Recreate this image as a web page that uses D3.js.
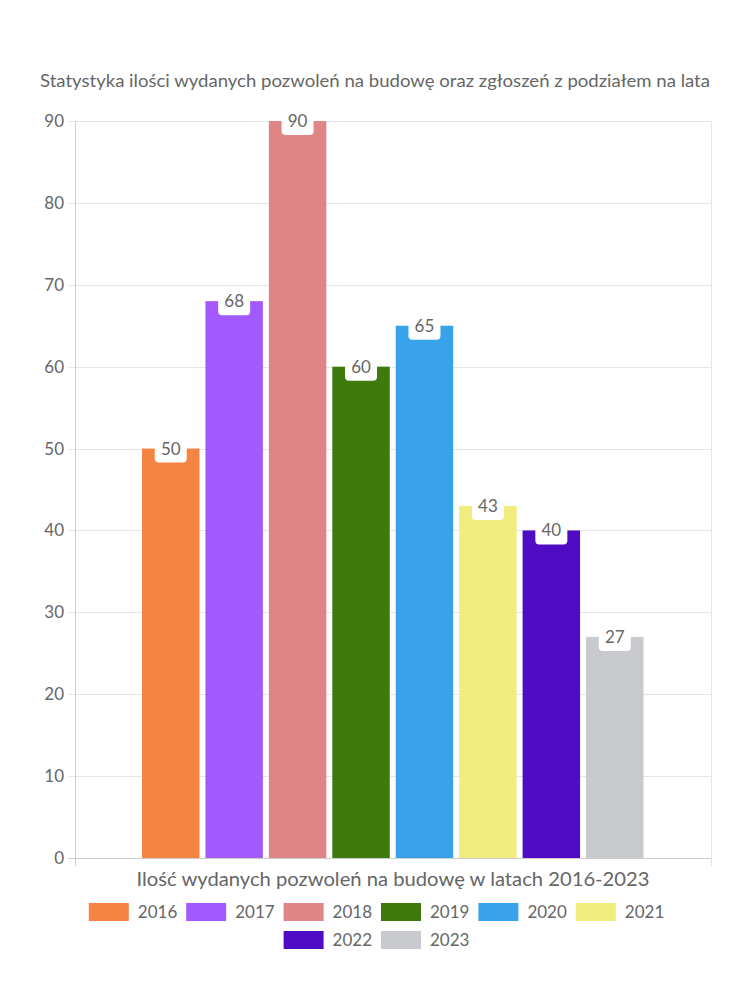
<!DOCTYPE html>
<html><head><meta charset="utf-8">
<script src="https://cdn.jsdelivr.net/npm/d3@7"></script>
<style>body{margin:0;background:#fff;} text{font-family:Lato, "Noto Sans", sans-serif;}</style>
</head><body>
<svg id="c" width="750" height="1000"></svg>
<script>
const years = ["2016","2017","2018","2019","2020","2021","2022","2023"];
const values = [50, 68, 90, 60, 65, 43, 40, 27];
const colors = ["#F58442","#A259FF","#E08585","#3E7B0C","#38A3EB","#F0EC7D","#4F0CC4","#C9CACE"];
const yTicks = [0,10,20,30,40,50,60,70,80,90];
const title = "Statystyka ilości wydanych pozwoleń na budowę oraz zgłoszeń z podziałem na lata";
const xTitle = "Ilość wydanych pozwoleń na budowę w latach 2016-2023";

const svg = d3.select("#c");
const L = 75, R = 711, T = 121, B = 858;
const y = d3.scaleLinear().domain([0, 90]).range([B, T]);
const x = d3.scaleBand().domain(years).range([142, 643.5]).paddingInner(0.094).paddingOuter(0);

const txt = "#666";
// title
svg.append("text").attr("x", 375).attr("y", 87).attr("text-anchor","middle")
  .attr("font-size", 17.5).attr("fill", txt)
  .attr("textLength", 670).attr("lengthAdjust","spacingAndGlyphs").text(title);

// grid
svg.append("g").selectAll("line").data(yTicks).join("line")
  .attr("x1", 68).attr("x2", R).attr("y1", d=>Math.round(y(d))+0.5).attr("y2", d=>Math.round(y(d))+0.5)
  .attr("stroke", d=> d===0 ? "#ccc" : "#e6e6e6").attr("stroke-width",1);
// right border
svg.append("line").attr("x1", R+0.5).attr("x2", R+0.5).attr("y1", T).attr("y2", 866).attr("stroke","#e6e6e6");
// left axis
svg.append("line").attr("x1", L+0.5).attr("x2", L+0.5).attr("y1", T).attr("y2", 866).attr("stroke","#ccc");
// y labels
svg.append("g").selectAll("text").data(yTicks).join("text")
  .attr("x", 64).attr("y", d=>y(d)).attr("dy","0.35em").attr("text-anchor","end")
  .attr("font-size", 17).attr("fill", txt).text(d=>d);

// bars
svg.append("g").selectAll("rect").data(values).join("rect")
  .attr("x", (d,i)=>x(years[i])).attr("width", x.bandwidth())
  .attr("y", d=>y(d)).attr("height", d=>B - y(d))
  .attr("fill", (d,i)=>colors[i]);

// labels
const lab = svg.append("g").selectAll("g").data(values).join("g")
  .attr("transform", (d,i)=>`translate(${x(years[i]) + x.bandwidth()/2},${y(d)})`);
lab.append("rect").attr("x", -16).attr("y", -12).attr("width", 32).attr("height", 26).attr("rx", 4).attr("fill", "#fff");
lab.append("text").attr("text-anchor","middle").attr("dy","0.35em").attr("font-size",17).attr("fill",txt).text(d=>d);

// x title
svg.append("text").attr("x", 393).attr("y", 886).attr("text-anchor","middle")
  .attr("font-size", 18.5).attr("fill", txt)
  .attr("textLength", 513).attr("lengthAdjust","spacingAndGlyphs").text(xTitle);

// legend
const itemW = 97.4, sw = 40;
const rows = [years.slice(0,6), years.slice(6)];
rows.forEach((row, r) => {
  const total = row.length * itemW - 10;
  const x0 = 375 - total/2 + 1;
  const yy = r === 0 ? 912 : 940;
  row.forEach((yr, k) => {
    const i = years.indexOf(yr);
    const gx = x0 + k*itemW;
    svg.append("rect").attr("x", gx).attr("y", yy - 9).attr("width", sw).attr("height", 18).attr("fill", colors[i]);
    svg.append("text").attr("x", gx + sw + 9).attr("y", yy).attr("dy","0.35em")
      .attr("font-size", 17).attr("fill", txt).text(yr);
  });
});
</script>
</body></html>
